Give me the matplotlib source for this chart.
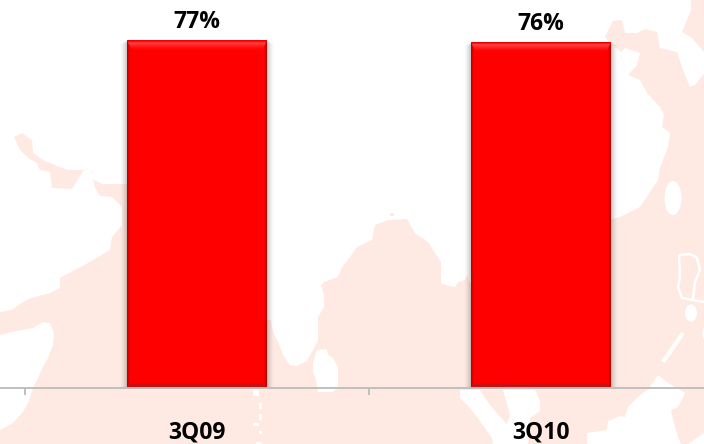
import matplotlib
matplotlib.use("Agg")
import matplotlib.pyplot as plt
from matplotlib.patches import Polygon, Ellipse, Rectangle
import numpy as np

# ---- chart data ----
categories = ["3Q09", "3Q10"]
values = [76.8, 76.4]

BAR_RED = "#FF0000"
LAND = "#FEEAE2"
AXIS_GREY = "#BFBFBF"

# ---- decorative background map outline (image pixels) ----
land_main = [(0,430),(13,423),(23,412),(28,403),(33,388),(38,378),(43,367),(48,358),(53,345),(54,333),(50,323),
 (43,322),(33,328),(12,332),(0,335),(0,312),(12,310),(20,304),(31,298),(50,293),(60,288),(60,278),(88,263),
 (110,250),(112,237),(122,225),(122,207),(112,197),(100,196),(95,188),(92,172),(90,168),(94,180),(102,184),
 (130,184),(200,250),(268,320),(271,320),(273,332),(278,342),(283,355),(290,365),(297,366),(307,361),(313,350),
 (318,340),(318,317),(324,307),(324,295),(321,285),(324,282),(338,277),(342,267),(350,257),(357,247),(372,240),
 (375,225),(388,220),(407,219),(415,233),(428,242),(435,253),(441,262),(441,284),(455,287),(458,282),(465,280),
 (467,275),(470,283),(540,260),(610,220),(620,217),(640,207),(650,192),(658,180),(660,168),(668,147),(670,133),
 (662,127),(664,115),(660,107),(647,93),(640,80),(628,75),(637,65),(640,53),(625,48),(621,52),(610,43),(605,37),
 (613,21),(622,20),(625,33),(637,33),(645,29),(657,32),(660,48),(677,52),(683,70),(690,87),(695,85),(704,74),
 (704,444),(0,444)]
land_arm = [(88,168),(83,171),(72,189),(52,188),(50,172),(40,170),(37,163),(28,158),(20,150),(14,137),(22,133),
 (32,140),(33,153),(43,160),(55,165),(67,170),(83,170)]
land_ne = [(704,52),(692,38),(682,32),(687,20),(691,10),(691,0),(704,0)]
land_dot = [(390,213),(394,213),(394,216),(390,216)]
white_sri = [(317,350),(327,349),(328,355),(333,358),(338,367),(338,387),(333,392),(318,392),(316,380),(313,372),(313,363)]
white_sw = [(460,390),(460,398),(470,408),(480,421),(492,438),(493,444),(528,444),(530,418),(540,411),(540,401),
 (535,390),(503,390),(510,415),(507,424),(495,411),(487,401),(480,390)]
white_se = [(587,444),(587,433),(607,430),(608,421),(620,416),(625,417),(628,407),(638,397),(648,389),(650,387),
 (658,375),(668,383),(677,388),(685,393),(683,398),(677,408),(671,410),(673,420),(678,437),(681,444)]
white_corner = [(688,444),(704,433),(704,444)]
white_ring = [(679,255),(690,254),(697,258),(700,270),(695,282),(693,300),(682,298),(678,287),(680,277),(679,255)]
white_strip = [(683,333),(663,362)]
white_tail = [(693,300),(704,302)]
white_dashes = [(253,390,6,6),(259,403,3,6),(259,414,3,6),(253,423,6,3),(259,431,3,3),(256,442,6,2)]

W, H = 704, 444
fig = plt.figure(figsize=(W/100, H/100), dpi=100, facecolor="white")

bg = fig.add_axes([0, 0, 1, 1], zorder=0)
bg.set_xlim(0, W); bg.set_ylim(H, 0); bg.axis("off")
for pts in (land_main, land_arm, land_ne, land_dot):
    bg.add_patch(Polygon(pts, closed=True, fc=LAND, ec="none"))
for pts in (white_sri, white_sw, white_se, white_corner):
    bg.add_patch(Polygon(pts, closed=True, fc="white", ec="none"))
bg.add_patch(Ellipse((673, 198), 17, 34, fc="white", ec="none"))
bg.add_patch(Ellipse((691, 313), 12, 17, fc="white", ec="none"))
bg.add_patch(Ellipse((705, 333), 5, 14, fc="white", ec="none"))
for pts, lw in ((white_ring, 1.8), (white_strip, 3), (white_tail, 1.8)):
    xs, ys = zip(*pts)
    bg.plot(xs, ys, color="white", lw=lw, solid_capstyle="butt")
for x, y, w, h in white_dashes:
    bg.add_patch(Rectangle((x, y), w, h, fc="white", ec="none"))

# ---- main chart axes ----
ax = fig.add_axes([0, 0, 1, 1], zorder=1)
ax.patch.set_alpha(0)
px_x = 344.0                # pixels per category
px_y = 347.0 / values[0]    # pixels per value unit
xpos = np.arange(len(categories))
bw = 140.0/px_x
bars = ax.bar(xpos, values, width=bw, color=BAR_RED, zorder=3)

# soft shadow and bevel on each bar
for bar in bars:
    x0, w, top = bar.get_x(), bar.get_width(), bar.get_height()
    x1 = x0 + w
    dx, dy = 1/px_x, 1/px_y
    for i in range(1, 8):
        a = 0.08*(1 - i/8)
        for xa in (x0 - i*dx, x1):
            ax.add_patch(Rectangle((xa, 0), i*dx, top - 0.5*i*dy, fc="#404040", ec="none", alpha=a, zorder=2))
    # sides
    for i in range(3):
        c = (0.74 + 0.11*i, 0, 0)
        ax.add_patch(Rectangle((x0 + i*dx, 0), dx, top - (i+1)*dy, fc=c, ec="none", zorder=4))
        ax.add_patch(Rectangle((x1 - (i+1)*dx, 0), dx, top - (i+1)*dy, fc=c, ec="none", zorder=4))
    # bottom
    ax.add_patch(Polygon([(x0, 0), (x1, 0), (x1-4*dx, 4*dy), (x0+4*dx, 4*dy)], fc="#C81010", ec="none", zorder=5))
    # top, light fading to pure red
    shades = ["#E00000", "#FF2020", "#FF5050", "#FF4848", "#FF3838", "#FF2A2A", "#FF1C1C", "#FF1010", "#FF0808"]
    for i, c in enumerate(shades):
        y1, y2 = top - i*dy, top - (i+1)*dy
        ax.add_patch(Polygon([(x0+i*dx*0.5, y1), (x1-i*dx*0.5, y1), (x1-(i+1)*dx*0.5, y2), (x0+(i+1)*dx*0.5, y2)],
                             fc=c, ec="none", zorder=5))

font = ["Open Sans", "DejaVu Sans"]
for x, v in zip(xpos, values):
    ax.text(x, v + 12/px_y, f"{v:.0f}%", ha="center", va="baseline", fontsize=16.5,
            fontweight="bold", family=font, color="black", zorder=6)

for s in ("top", "left", "right"):
    ax.spines[s].set_visible(False)
ax.spines["bottom"].set_position(("data", 0))
ax.spines["bottom"].set_color(AXIS_GREY)
ax.spines["bottom"].set_linewidth(1.4)
ax.spines["bottom"].set_zorder(7)
ax.set_yticks([])
ax.set_xticks(xpos)
ax.set_xticklabels(categories, fontsize=16.5, fontweight="bold", family=font, color="black")
ax.tick_params(axis="x", which="major", length=0, pad=24)
ax.set_xticks([-0.5, 0.5, 1.5], minor=True)
ax.tick_params(axis="x", which="minor", length=5, width=1.4, color=AXIS_GREY)
# limits are set last because set_xticks widens the view to include every tick
ax.set_xlim(-197/px_x, (W-197)/px_x)
ax.set_ylim(-(H-387.5)/px_y, 387.5/px_y)

fig.savefig("out.png", dpi=100)
